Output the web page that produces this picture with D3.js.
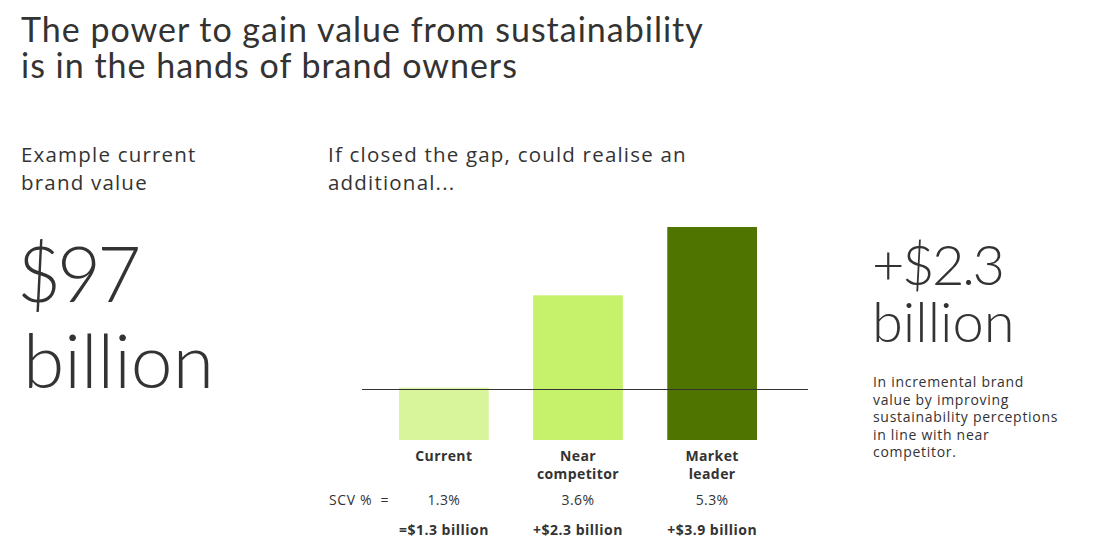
<!DOCTYPE html>
<meta charset="utf-8">
<html>
<head>
<style>
  body { margin: 0; background: #fff; }
  svg text { font-family: "Open Sans", "Noto Sans", sans-serif; fill: #333; }
  .title { font-family: "Lato", sans-serif; letter-spacing: 1px; }
  .sub { font-size: 20.5px; letter-spacing: 1.2px; }
  .big { font-family: "Lato", sans-serif; font-weight: 300; }
  .bold { font-weight: 700; }
</style>
</head>
<body>
<div id="chart"></div>

<script src="https://d3js.org/d3.v7.min.js"></script>

<script>

  // Data
  var categories = ["Current", "Near competitor", "Market leader"];
  var labelLines = [["Current"], ["Near", "competitor"], ["Market", "leader"]];
  var scvValues = [1.3, 3.6, 5.3];
  var scvLabels = ["1.3%", "3.6%", "5.3%"];
  var gainLabels = ["=$1.3 billion", "+$2.3 billion", "+$3.9 billion"];
  var barColors = ["#d9f59b", "#c6f16a", "#507400"];

  var width = 1105, height = 558;

  var svg = d3.select("#chart")
    .append("svg")
      .attr("width", width)
      .attr("height", height);

  // Title
  svg.append("text")
    .attr("class", "title")
    .attr("x", 21).attr("y", 42)
    .style("font-size", "34px")
    .text("The power to gain value from sustainability");
  svg.append("text")
    .attr("class", "title")
    .attr("x", 21).attr("y", 78)
    .style("font-size", "34px")
    .text("is in the hands of brand owners");

  // Left block
  svg.append("text").attr("class", "sub").attr("x", 21).attr("y", 162).text("Example current");
  svg.append("text").attr("class", "sub").attr("x", 21).attr("y", 190).text("brand value");
  svg.append("text").attr("class", "big").attr("x", 17).attr("y", 302)
    .style("font-size", "76px").style("letter-spacing", "-4px").text("$97");
  svg.append("text").attr("class", "big").attr("x", 23).attr("y", 388)
    .style("font-size", "75px").text("billion");

  // Middle heading
  svg.append("text").attr("class", "sub").attr("x", 328).attr("y", 162).text("If closed the gap, could realise an");
  svg.append("text").attr("class", "sub").attr("x", 328).attr("y", 190).text("additional...");

  // Scales
  var x = d3.scaleBand()
    .domain(categories)
    .range([399, 757])
    .paddingInner(0.331)
    .paddingOuter(0);

  var y = d3.scaleLinear()
    .domain([0, d3.max(scvValues)])
    .range([440, 227]);

  // Bars
  svg.append("g")
    .selectAll("rect")
    .data(categories)
    .enter()
    .append("rect")
      .attr("x", function(d) { return x(d); })
      .attr("width", x.bandwidth())
      .attr("y", function(d, i) { return y(scvValues[i]); })
      .attr("height", function(d, i) { return y(0) - y(scvValues[i]); })
      .attr("fill", function(d, i) { return barColors[i]; });

  // Reference line at current level
  svg.append("line")
    .attr("x1", 362).attr("x2", 808)
    .attr("y1", Math.round(y(scvValues[0])) + 1.5)
    .attr("y2", Math.round(y(scvValues[0])) + 1.5)
    .attr("stroke", "#333")
    .attr("stroke-width", 1.2);

  // Category labels
  var labels = svg.append("g")
    .selectAll("text")
    .data(categories)
    .enter()
    .append("text")
      .attr("class", "bold")
      .attr("text-anchor", "middle")
      .attr("x", function(d) { return x(d) + x.bandwidth() / 2; })
      .attr("y", 461)
      .style("font-size", "14px")
      .style("letter-spacing", "0.4px");
  labels.each(function(d, i) {
    var t = d3.select(this);
    labelLines[i].forEach(function(line, j) {
      t.append("tspan")
        .attr("x", x(d) + x.bandwidth() / 2)
        .attr("dy", j === 0 ? 0 : 18)
        .text(line);
    });
  });

  // SCV row
  svg.append("text")
    .attr("x", 329).attr("y", 505)
    .style("font-size", "14px")
    .style("letter-spacing", "0.6px")
    .attr("xml:space", "preserve")
    .text("SCV %  =");

  svg.append("g")
    .selectAll("text")
    .data(categories)
    .enter()
    .append("text")
      .attr("text-anchor", "middle")
      .attr("x", function(d) { return x(d) + x.bandwidth() / 2; })
      .attr("y", 505)
      .style("font-size", "14px")
      .style("letter-spacing", "0.4px")
      .text(function(d, i) { return scvLabels[i]; });

  svg.append("g")
    .selectAll("text")
    .data(categories)
    .enter()
    .append("text")
      .attr("class", "bold")
      .attr("text-anchor", "middle")
      .attr("x", function(d) { return x(d) + x.bandwidth() / 2; })
      .attr("y", 535)
      .style("font-size", "14px")
      .style("letter-spacing", "0.5px")
      .text(function(d, i) { return gainLabels[i]; });

  // Right block
  svg.append("text").attr("class", "big").attr("x", 872).attr("y", 285)
    .style("font-size", "56px").style("letter-spacing", "-2.5px").text("+$2.3");
  svg.append("text").attr("class", "big").attr("x", 872).attr("y", 342)
    .style("font-size", "56px").text("billion");

  var note = ["In incremental brand", "value by improving", "sustainability perceptions", "in line with near", "competitor."];
  svg.append("g")
    .selectAll("text")
    .data(note)
    .enter()
    .append("text")
      .attr("x", 873)
      .attr("y", function(d, i) { return 387 + i * 17.5; })
      .style("font-size", "14px")
      .style("letter-spacing", "0.7px")
      .style("font-weight", 500)
      .text(function(d) { return d; });

</script>
</body>
</html>
